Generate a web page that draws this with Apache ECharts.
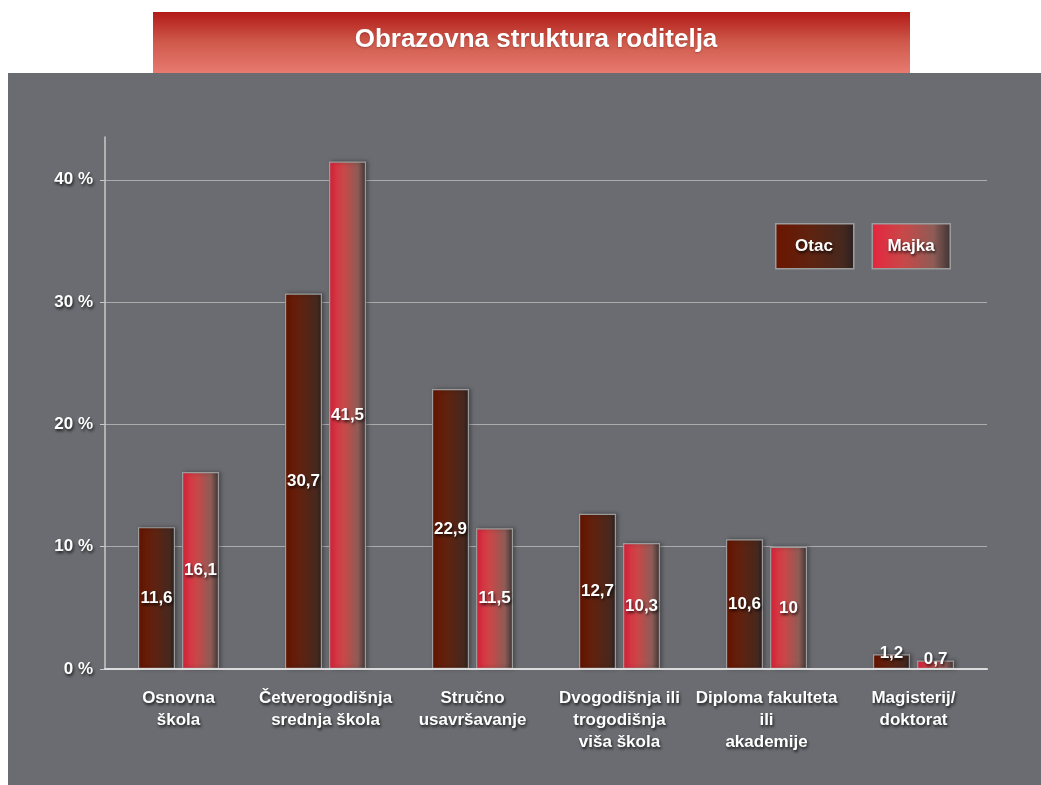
<!DOCTYPE html>
<html>
<head>
<meta charset="utf-8">
<script src="https://cdn.jsdelivr.net/npm/echarts@6/dist/echarts.min.js"></script>
<style>html,body{margin:0;padding:0;background:#fff;}#c{width:1041px;height:785px;}</style>
</head>
<body>
<div id="c"></div>
<script>
const titleText = 'Obrazovna struktura roditelja';
const categories = ['Osnovna\nškola', 'Četverogodišnja\nsrednja škola', 'Stručno\nusavršavanje', 'Dvogodišnja ili\ntrogodišnja\nviša škola', 'Diploma fakulteta\nili\nakademije', 'Magisterij/\ndoktorat'];
const seriesNames = ['Otac', 'Majka'];
const otac = [11.6, 30.7, 22.9, 12.7, 10.6, 1.2];
const majka = [16.1, 41.5, 11.5, 10.3, 10, 0.7];
const yTicks = [0, 10, 20, 30, 40];

const FONT = '"Liberation Sans", Arial, Helvetica, sans-serif';
const shadowText = { textShadowColor: 'rgba(0,0,0,0.75)', textShadowBlur: 3, textShadowOffsetX: 1, textShadowOffsetY: 2 };

function grad(stops) {
  return new echarts.graphic.LinearGradient(0, 0, 1, 0, stops.map(c => ({ offset: c[0], color: c[1] })));
}
const otacColor = grad([[0, '#6c1500'], [0.45, '#5e2310'], [0.85, '#46281e'], [1, '#2a2020']]);
const majkaColor = grad([[0, '#e6243e'], [0.4, '#c84848'], [0.78, '#8e5c56'], [1, '#3c3434']]);

function mkData(arr) {
  return arr.map(v => v < 5 ? { value: v, label: { position: 'top', distance: -7 } } : v);
}
function fmt(p) { return String(p.value).replace('.', ','); }

const labelStyle = Object.assign({ show: true, position: 'inside', color: '#fff', fontFamily: FONT, fontWeight: 'bold', fontSize: 17, formatter: fmt }, shadowText);
const legendTextStyle = (t) => Object.assign({ text: t, fill: '#fff', font: 'bold 17px ' + FONT, align: 'center', verticalAlign: 'middle' }, { textShadowColor: 'rgba(0,0,0,0.75)', textShadowBlur: 3, textShadowOffsetX: 1, textShadowOffsetY: 2 });

const chart = echarts.init(document.getElementById('c'), null, { renderer: 'canvas' });
chart.setOption({
  backgroundColor: '#ffffff',
  animation: false,
  graphic: [
    { type: 'rect', z: -10, shape: { x: 8, y: 73, width: 1033, height: 712 }, style: { fill: '#6b6c71' } },
    { type: 'rect', z: -10, shape: { x: 153, y: 12, width: 757, height: 61 },
      style: { fill: new echarts.graphic.LinearGradient(0, 0, 0, 1, [{ offset: 0, color: '#b21a16' }, { offset: 0.5, color: '#cf5a4c' }, { offset: 1, color: '#e87a70' }]) } },
    { type: 'text', z: 100, x: 814, y: 246, style: legendTextStyle(seriesNames[0]) },
    { type: 'text', z: 100, x: 911, y: 246, style: legendTextStyle(seriesNames[1]) }
  ],
  title: {
    text: titleText,
    left: 531, top: 22, textAlign: 'center',
    textStyle: Object.assign({ color: '#fff', fontFamily: FONT, fontWeight: 'bold', fontSize: 26 }, { textShadowColor: 'rgba(0,0,0,0.25)', textShadowBlur: 2, textShadowOffsetY: 1 })
  },
  legend: {
    data: seriesNames,
    left: 770, top: 218,
    itemWidth: 78, itemHeight: 45, itemGap: 17,
    icon: 'rect',
    formatter: () => '',
    itemStyle: { borderColor: '#9c9c9c', borderWidth: 1.5 },
    selectedMode: false
  },
  grid: { left: 105, right: 54, top: 137, bottom: 116, containLabel: false },
  xAxis: {
    type: 'category',
    data: categories,
    axisLine: { show: true, lineStyle: { color: '#dcdcdc', width: 2 } },
    axisTick: { show: false },
    axisLabel: Object.assign({ color: '#fff', fontFamily: FONT, fontWeight: 'bold', fontSize: 17, lineHeight: 22, margin: 18, interval: 0 }, shadowText),
    z: 5
  },
  yAxis: {
    type: 'value',
    min: 0, max: 43.5, interval: 10,
    axisLine: { show: true, lineStyle: { color: '#c8c8c8', width: 1.5 } },
    axisTick: { show: true, length: 5, inside: false, customValues: yTicks, lineStyle: { color: '#c8c8c8' } },
    axisLabel: Object.assign({ color: '#fff', fontFamily: FONT, fontWeight: 'bold', fontSize: 17, margin: 12, customValues: yTicks, formatter: '{value} %' }, shadowText),
    splitLine: { show: true, lineStyle: { color: '#acacac', width: 1.2 } }
  },
  series: [
    { name: seriesNames[0], type: 'bar', data: mkData(otac), barWidth: 37, barGap: '19%',
      itemStyle: { color: otacColor, borderColor: '#9c9c9c', borderWidth: 1.2, shadowColor: 'rgba(0,0,0,0.35)', shadowBlur: 4, shadowOffsetX: 2 },
      label: labelStyle },
    { name: seriesNames[1], type: 'bar', data: mkData(majka), barWidth: 37, barGap: '19%',
      itemStyle: { color: majkaColor, borderColor: '#9c9c9c', borderWidth: 1.2, shadowColor: 'rgba(0,0,0,0.35)', shadowBlur: 4, shadowOffsetX: 2 },
      label: labelStyle }
  ]
});
</script>
</body>
</html>
